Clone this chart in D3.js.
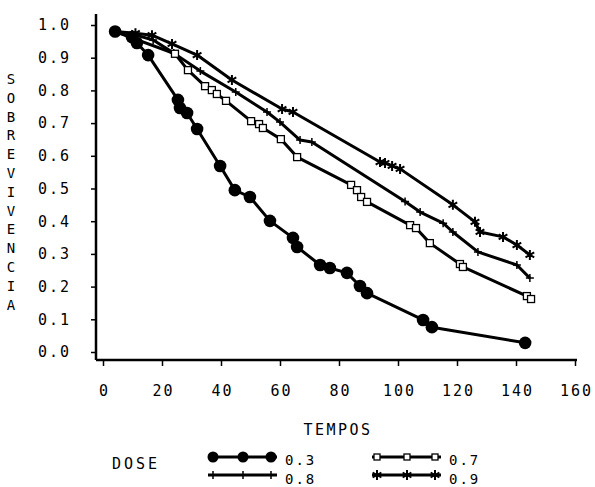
<!DOCTYPE html>
<html lang="pt">
<head>
<meta charset="UTF-8">
<title>Sobrevivencia x Tempos</title>
<script src="https://cdn.jsdelivr.net/npm/d3@7"></script>
<style>
  * { margin: 0; padding: 0; box-sizing: border-box; }
  body { background: #fff; }
  text { font-family: "DejaVu Sans Mono", "Liberation Mono", monospace; fill: #000; }
</style>
</head>
<body>
<svg width="595" height="487"></svg>
<script>
// tempos / sobrevivencia por dose
var t03 = [4.1, 9.8, 11.5, 15.3, 25.4, 26.1, 28.5, 31.9, 39.7, 44.7, 49.8, 56.6, 64.4, 65.8, 73.6, 76.9, 82.7, 87.1, 89.5, 108.5, 111.5, 143.1];
var s03 = [0.98, 0.963, 0.945, 0.908, 0.771, 0.746, 0.731, 0.682, 0.569, 0.495, 0.474, 0.401, 0.349, 0.321, 0.266, 0.257, 0.242, 0.202, 0.18, 0.098, 0.076, 0.028];

var t07 = [4.1, 24.4, 28.8, 34.6, 36.9, 38.6, 41.7, 50.2, 52.9, 54.2, 60.3, 65.8, 84.1, 86.1, 87.5, 89.5, 104.1, 106.1, 110.8, 121.0, 122.0, 143.7, 145.1];
var s07 = [0.98, 0.912, 0.862, 0.813, 0.801, 0.789, 0.768, 0.706, 0.697, 0.685, 0.651, 0.596, 0.511, 0.495, 0.474, 0.459, 0.388, 0.379, 0.333, 0.269, 0.26, 0.171, 0.162];

var t08 = [4.1, 10, 17, 24, 33, 45, 55.6, 60, 66.8, 70.8, 102.4, 107.5, 115.3, 118.6, 127.1, 140.3, 144.7];
var s08 = [0.98, 0.972, 0.954, 0.914, 0.859, 0.795, 0.734, 0.703, 0.648, 0.642, 0.46, 0.428, 0.394, 0.367, 0.306, 0.266, 0.226];

var t09 = [4.1, 11, 16.6, 23.4, 31.9, 43.7, 60.7, 64.4, 93.9, 95.6, 98, 100.7, 118.6, 126.1, 127.8, 135.6, 140.3, 144.7];
var s09 = [0.98, 0.975, 0.969, 0.942, 0.908, 0.832, 0.743, 0.734, 0.581, 0.578, 0.569, 0.56, 0.45, 0.398, 0.367, 0.352, 0.327, 0.297];

var xTicks = [0, 20, 40, 60, 80, 100, 120, 140, 160];
var yTicks = [0, 0.1, 0.2, 0.3, 0.4, 0.5, 0.6, 0.7, 0.8, 0.9, 1.0];
var doses = ["0.3", "0.7", "0.8", "0.9"];

var svg = d3.select("svg");
var x = d3.scaleLinear().domain([0, 160]).range([103, 575]);
var y = d3.scaleLinear().domain([0, 1]).range([352, 25]);

// eixos
var axisY = 360, axisX = 96;
svg.append("line").attr("x1", axisX).attr("x2", 577).attr("y1", axisY).attr("y2", axisY)
    .attr("stroke", "#000").attr("stroke-width", 2.5);
svg.append("line").attr("x1", axisX).attr("x2", axisX).attr("y1", 14).attr("y2", axisY)
    .attr("stroke", "#000").attr("stroke-width", 2.5);

// x: ticks menores a cada 5
var gx = svg.append("g").attr("transform", "translate(0," + axisY + ")");
gx.call(d3.axisBottom(x).tickValues(d3.range(0, 161, 5)).tickSize(4).tickFormat(""));
gx.call(d3.axisBottom(x).tickValues(xTicks).tickSize(6).tickPadding(19).tickFormat(d3.format("d")));
gx.selectAll(".domain").remove();
gx.selectAll("line").attr("stroke", "#000").attr("stroke-width", 1.5);
gx.selectAll("text").style("font-size", "15px").style("letter-spacing", "2px")
    .attr("dx", "1");

var gy = svg.append("g").attr("transform", "translate(" + axisX + ",0)");
gy.call(d3.axisLeft(y).tickValues(d3.range(0, 1.001, 0.025)).tickSize(2).tickFormat(""));
gy.call(d3.axisLeft(y).tickValues(yTicks).tickSize(5).tickPadding(20).tickFormat(d3.format(".1f")));
gy.selectAll(".domain").remove();
gy.selectAll("line").attr("stroke", "#000").attr("stroke-width", 1.5);
gy.selectAll("text").style("font-size", "15px").style("letter-spacing", "2px");

// titulos
svg.append("text").attr("x", 338).attr("y", 435).attr("text-anchor", "middle")
    .style("font-size", "15px").style("letter-spacing", "2.5px").text("TEMPOS");

var yl = "SOBREVIVENCIA".split("");
svg.append("g").selectAll("text").data(yl).enter().append("text")
    .attr("x", 11).attr("y", function (d, i) { return 84 + i * 18.8; })
    .attr("text-anchor", "middle").style("font-size", "14px").text(function (d) { return d; });

// marcadores
function circ(g, px, py, r) {
    g.append("circle").attr("cx", px).attr("cy", py).attr("r", r).attr("fill", "#000");
}
function sq(g, px, py, s) {
    g.append("rect").attr("x", px - s / 2).attr("y", py - s / 2).attr("width", s).attr("height", s)
        .attr("fill", "#fff").attr("stroke", "#000").attr("stroke-width", 1.3);
}
function plus(g, px, py, s) {
    g.append("path").attr("d", "M" + px + "," + (py - s) + "V" + (py + s) + "M" + (px - s) + "," + py + "H" + (px + s))
        .attr("stroke", "#000").attr("stroke-width", 1.5);
}
function star(g, px, py, s) {
    var d = "M" + px + "," + (py - s) + "V" + (py + s) +
        "M" + (px - s * 0.87) + "," + (py - s / 2) + "L" + (px + s * 0.87) + "," + (py + s / 2) +
        "M" + (px - s * 0.87) + "," + (py + s / 2) + "L" + (px + s * 0.87) + "," + (py - s / 2);
    g.append("path").attr("d", d).attr("stroke", "#000").attr("stroke-width", 2);
}

var line = d3.line().x(function (d) { return x(d[0]); }).y(function (d) { return y(d[1]); });

function drawSeries(ts, ss, mark, size) {
    var pts = d3.zip(ts, ss);
    var g = svg.append("g");
    g.append("path").datum(pts).attr("d", line).attr("fill", "none")
        .attr("stroke", "#000").attr("stroke-width", 3).attr("stroke-linejoin", "round");
    pts.forEach(function (p) { mark(g, x(p[0]), y(p[1]), size); });
}

drawSeries(t09, s09, star, 5);
drawSeries(t08, s08, plus, 4);
drawSeries(t07, s07, sq, 7);
drawSeries(t03, s03, circ, 6.3);

// legenda
svg.append("text").attr("x", 112).attr("y", 469).style("font-size", "15px")
    .style("letter-spacing", "3px").text("DOSE");

var legMarks = [circ, sq, plus, star];
var legSize = [5.5, 6, 4, 5];
var legX = [208, 372, 208, 372];
var legY = [457, 457, 475, 475];
var legDy = [8, 8, 9, 9];
doses.forEach(function (d, i) {
    var g = svg.append("g");
    g.append("line").attr("x1", legX[i]).attr("x2", legX[i] + 69).attr("y1", legY[i]).attr("y2", legY[i])
        .attr("stroke", "#000").attr("stroke-width", 3);
    [5, 35, 63].forEach(function (o) { legMarks[i](g, legX[i] + o, legY[i], legSize[i]); });
    g.append("text").attr("x", legX[i] + 77).attr("y", legY[i] + legDy[i]).style("font-size", "14px")
        .style("letter-spacing", "2px").text(d);
});
</script>
</body>
</html>
